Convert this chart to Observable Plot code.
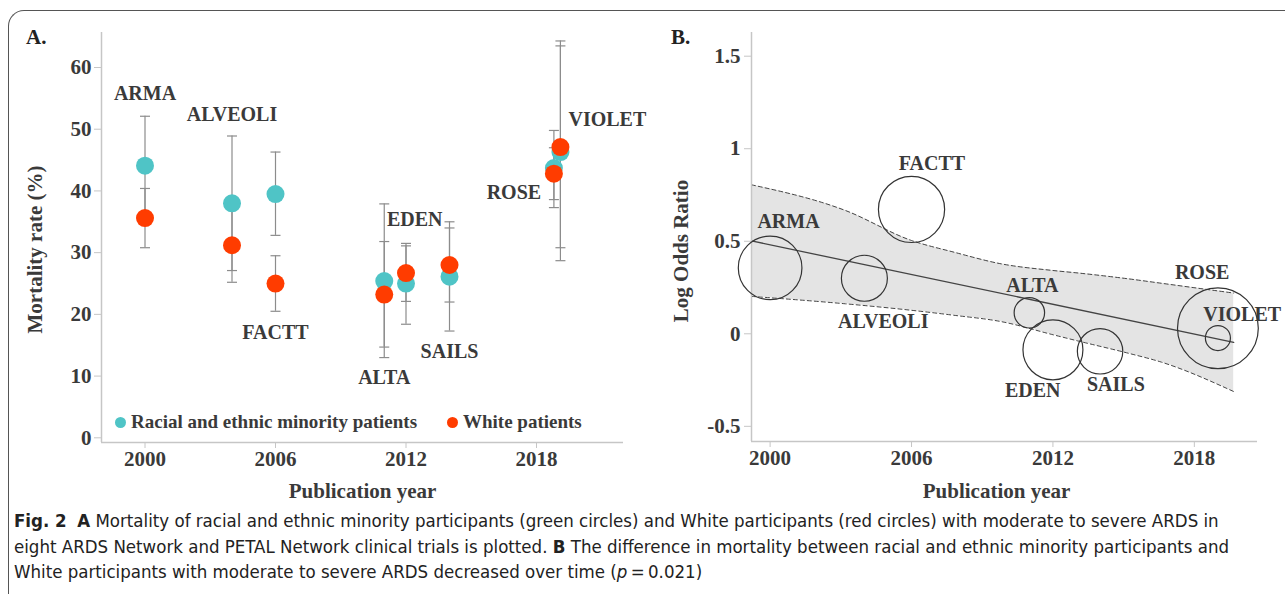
<!DOCTYPE html>
<html>
<head>
<meta charset="utf-8">
<script src="https://cdn.jsdelivr.net/npm/d3@7"></script>
<script src="https://cdn.jsdelivr.net/npm/@observablehq/plot@0.6"></script>
<style>
  html, body { margin: 0; padding: 0; background: #fff; width: 1285px; height: 594px; overflow: hidden; }
  #frame { position: absolute; left: 8px; top: 10px; width: 1400px; height: 700px;
           border-top: 1.6px solid #555; border-left: 1.6px solid #555; border-top-left-radius: 16px; }
  #panelA { position: absolute; left: 0; top: 0; }
  #panelB { position: absolute; left: 640px; top: 0; }
  .letter { position: absolute; font: bold 21px "Liberation Serif", "Times New Roman", serif; color: #222; line-height: 1; }
  .legend { position: absolute; top: 411px; font: bold 19px "Liberation Serif", "Times New Roman", serif; color: #3a3a3a;
            display: flex; align-items: center; white-space: nowrap; line-height: 22px; }
  .legend .sw { display: inline-block; width: 11px; height: 11px; border-radius: 50%; margin-right: 5px; }
  #caption { position: absolute; left: 14px; top: 508px; white-space: nowrap; color: #222;
             font-family: "Liberation Sans Narrow", "DejaVu Sans Condensed", "Roboto Condensed", "Arial Narrow", sans-serif;
             font-stretch: condensed; font-size: 18.5px; line-height: 25.5px; }
  #caption b { font-weight: bold; }
</style>
</head>
<body>
<div id="frame"></div>
<div id="panelA"></div>
<div id="panelB"></div>
<div class="letter" style="left:26px; top:27px;">A.</div>
<div class="letter" style="left:671px; top:27px;">B.</div>
<div class="legend" style="left:115px;"><span class="sw" style="background:#4fc4c6"></span>Racial and ethnic minority patients</div>
<div class="legend" style="left:447px;"><span class="sw" style="background:#ff3c00"></span>White patients</div>
<div id="caption">
  <b>Fig. 2</b>&nbsp; <b>A</b> Mortality of racial and ethnic minority participants (green circles) and White participants (red circles) with moderate to severe ARDS in<br>
  eight ARDS Network and PETAL Network clinical trials is plotted. <b>B</b> The difference in mortality between racial and ethnic minority participants and<br>
  White participants with moderate to severe ARDS decreased over time (<i>p</i>&#8201;=&#8201;0.021)
</div>
<script>
// ---------- data ----------
const trials = ["ARMA", "ALVEOLI", "FACTT", "ALTA", "EDEN", "SAILS", "ROSE", "VIOLET"];

// Panel A: mortality (%) with 95% CI
const yearsA        = [2000, 2004, 2006, 2011, 2012, 2014, 2018.8, 2019.1];
const minorityRate  = [44.1, 38.0, 39.5, 25.4, 25.0, 26.1, 43.7, 46.3];
const minorityLow   = [36.1, 27.1, 32.8, 13.0, 18.4, 17.3, 37.3, 28.7];
const minorityHigh  = [52.1, 48.9, 46.3, 37.9, 31.5, 35.0, 49.8, 64.3];
const whiteRate     = [35.6, 31.2, 25.0, 23.2, 26.7, 28.0, 42.8, 47.1];
const whiteLow      = [30.8, 25.2, 20.5, 14.7, 22.1, 22.0, 38.6, 30.8];
const whiteHigh     = [40.4, 37.2, 29.5, 31.8, 31.1, 34.0, 47.0, 63.5];
const labelYearA    = [2000, 2004, 2006, 2011, 2012.4, 2014, 2016.96, 2021.26];
const labelRateA    = [55.7, 52.4, 17.1, 9.7, 35.3, 14.0, 39.8, 51.6];
const xTicksA = [2000, 2006, 2012, 2018];
const yTicksA = [0, 10, 20, 30, 40, 50, 60];
const xDomainA = [1998, 2022];
const yDomainA = [-0.76, 65.67];

// Panel B: log odds ratio, bubble weight, meta-regression
const yearsB      = [2000, 2004, 2006, 2011, 2012, 2014, 2019, 2019];
const logOddsB    = [0.356, 0.300, 0.672, 0.1135, -0.0865, -0.0946, 0.030, -0.023];
const weightB     = [62.0, 32.4, 67.1, 14.2, 55.1, 31.6, 100, 9.6];
const labelYearB  = [2000.78, 2004.8, 2006.87, 2011.13, 2011.14, 2014.67, 2018.33, 2020.03];
const labelLogB   = [0.607, 0.066, 0.922, 0.258, -0.306, -0.276, 0.328, 0.104];
const fitYears    = [1999.21, 2019.67];
const fitValues   = [0.502, -0.046];
const bandYears   = [1999.21, 2003.2, 2006.0, 2007.8, 2009.8, 2012.0, 2013.1, 2015.2, 2016.6, 2019.67];
const bandUpper   = [0.805, 0.666, 0.504, 0.441, 0.378, 0.342, 0.328, 0.297, 0.273, 0.220];
const bandLower   = [0.202, 0.162, 0.127, 0.100, 0.066, -0.005, -0.040, -0.105, -0.153, -0.312];
const xTicksB = [2000, 2006, 2012, 2018];
const yTicksB = [-0.5, 0, 0.5, 1, 1.5];
const xDomainB = [1999.21, 2020.68];
const yDomainB = [-0.582, 1.628];

// ---------- tables ----------
const minority = trials.map((t, i) => ({trial: t, year: yearsA[i], rate: minorityRate[i], low: minorityLow[i], high: minorityHigh[i]}));
const white = trials.map((t, i) => ({trial: t, year: yearsA[i], rate: whiteRate[i], low: whiteLow[i], high: whiteHigh[i]}));
const bars = minority.concat(white);
const caps = bars.flatMap(d => [{year: d.year, v: d.low}, {year: d.year, v: d.high}]);
const labelsA = trials.map((t, i) => ({trial: t, year: labelYearA[i], v: labelRateA[i]}));
const bubbles = trials.map((t, i) => ({trial: t, year: yearsB[i], v: logOddsB[i], w: weightB[i]}));
const labelsB = trials.map((t, i) => ({trial: t, year: labelYearB[i], v: labelLogB[i]}));
const fit = fitYears.map((y, i) => ({year: y, v: fitValues[i]}));
const band = bandYears.map((y, i) => ({year: y, lo: bandLower[i], hi: bandUpper[i]}));

// ---------- styles ----------
const TEXT = "#3a3a3a";
const AXIS = "#c6c6c6";
const serif = "'Liberation Serif', 'Times New Roman', serif";
const capSymbol = {draw(ctx, size) { const w = Math.sqrt(size / Math.PI); ctx.moveTo(-w, 0); ctx.lineTo(w, 0); }};

const plotA = Plot.plot({
  width: 640, height: 505,
  marginLeft: 101, marginRight: 17, marginTop: 32, marginBottom: 63,
  x: {domain: xDomainA},
  y: {domain: yDomainA},
  style: {fontFamily: serif, fontSize: "21px", fontWeight: "bold", color: TEXT, background: "transparent", overflow: "visible"},
  marks: [
    Plot.ruleX([xDomainA[0]], {stroke: AXIS, strokeWidth: 1.5}),
    Plot.ruleY([yDomainA[0]], {stroke: AXIS, strokeWidth: 1.5}),
    Plot.axisY({ticks: yTicksA, tickSize: 7, tickPadding: 3, stroke: AXIS, fill: TEXT, label: null, fontSize: 21}),
    Plot.axisX({ticks: xTicksA, tickFormat: d => String(d), tickSize: 6, tickPadding: 3, stroke: AXIS, fill: TEXT, label: null, fontSize: 21}),
    Plot.ruleX(bars, {x: "year", y1: "low", y2: "high", stroke: "#8c8c8c", strokeWidth: 1.2}),
    Plot.dot(caps, {x: "year", y: "v", symbol: capSymbol, r: 5, stroke: "#8c8c8c", strokeWidth: 1.2}),
    Plot.dot(minority, {x: "year", y: "rate", r: 9, fill: "#4fc4c6"}),
    Plot.dot(white, {x: "year", y: "rate", r: 9, fill: "#ff3c00"}),
    Plot.text(labelsA, {x: "year", y: "v", text: "trial", fontSize: 20, fontWeight: "bold", fill: TEXT}),
    Plot.text(["Mortality rate (%)"], {text: d => d, frameAnchor: "left", textAnchor: "middle", lineAnchor: "middle", rotate: -90, dx: -66, dy: 12, fontSize: 21, fontWeight: "bold", fill: TEXT}),
    Plot.text(["Publication year"], {text: d => d, frameAnchor: "bottom", textAnchor: "middle", lineAnchor: "middle", dy: 49, fontSize: 21, fontWeight: "bold", fill: TEXT})
  ]
});
document.getElementById("panelA").append(plotA);

const plotB = Plot.plot({
  width: 645, height: 505,
  marginLeft: 111, marginRight: 28, marginTop: 32, marginBottom: 64,
  x: {domain: xDomainB},
  y: {domain: yDomainB},
  r: {type: "sqrt", domain: [0, 100], range: [0, 40.4]},
  style: {fontFamily: serif, fontSize: "21px", fontWeight: "bold", color: TEXT, background: "transparent", overflow: "visible"},
  marks: [
    Plot.areaY(band, {x: "year", y1: "lo", y2: "hi", fill: "#e4e4e4", curve: "monotone-x"}),
    Plot.line(band, {x: "year", y: "hi", stroke: "#444", strokeWidth: 1, strokeDasharray: "4,3", curve: "monotone-x"}),
    Plot.line(band, {x: "year", y: "lo", stroke: "#444", strokeWidth: 1, strokeDasharray: "4,3", curve: "monotone-x"}),
    Plot.line(fit, {x: "year", y: "v", stroke: "#444", strokeWidth: 1.3}),
    Plot.ruleX([xDomainB[0]], {stroke: AXIS, strokeWidth: 1.5}),
    Plot.ruleY([yDomainB[0]], {stroke: AXIS, strokeWidth: 1.5}),
    Plot.axisY({ticks: yTicksB, tickFormat: d => String(d), tickSize: 7, tickPadding: 4, stroke: AXIS, fill: TEXT, label: null, fontSize: 21}),
    Plot.axisX({ticks: xTicksB, tickFormat: d => String(d), tickSize: 6, tickPadding: 3, stroke: AXIS, fill: TEXT, label: null, fontSize: 21}),
    Plot.dot(bubbles, {x: "year", y: "v", r: "w", stroke: "#333", strokeWidth: 1.2, fill: "none"}),
    Plot.text(labelsB, {x: "year", y: "v", text: "trial", fontSize: 20, fontWeight: "bold", fill: TEXT}),
    Plot.text(["Log Odds Ratio"], {text: d => d, frameAnchor: "left", textAnchor: "middle", lineAnchor: "middle", rotate: -90, dx: -70, dy: 14, fontSize: 21, fontWeight: "bold", fill: TEXT}),
    Plot.text(["Publication year"], {text: d => d, frameAnchor: "bottom", textAnchor: "middle", lineAnchor: "middle", dx: -8, dy: 50, fontSize: 21, fontWeight: "bold", fill: TEXT})
  ]
});
document.getElementById("panelB").append(plotB);
</script>
</body>
</html>
